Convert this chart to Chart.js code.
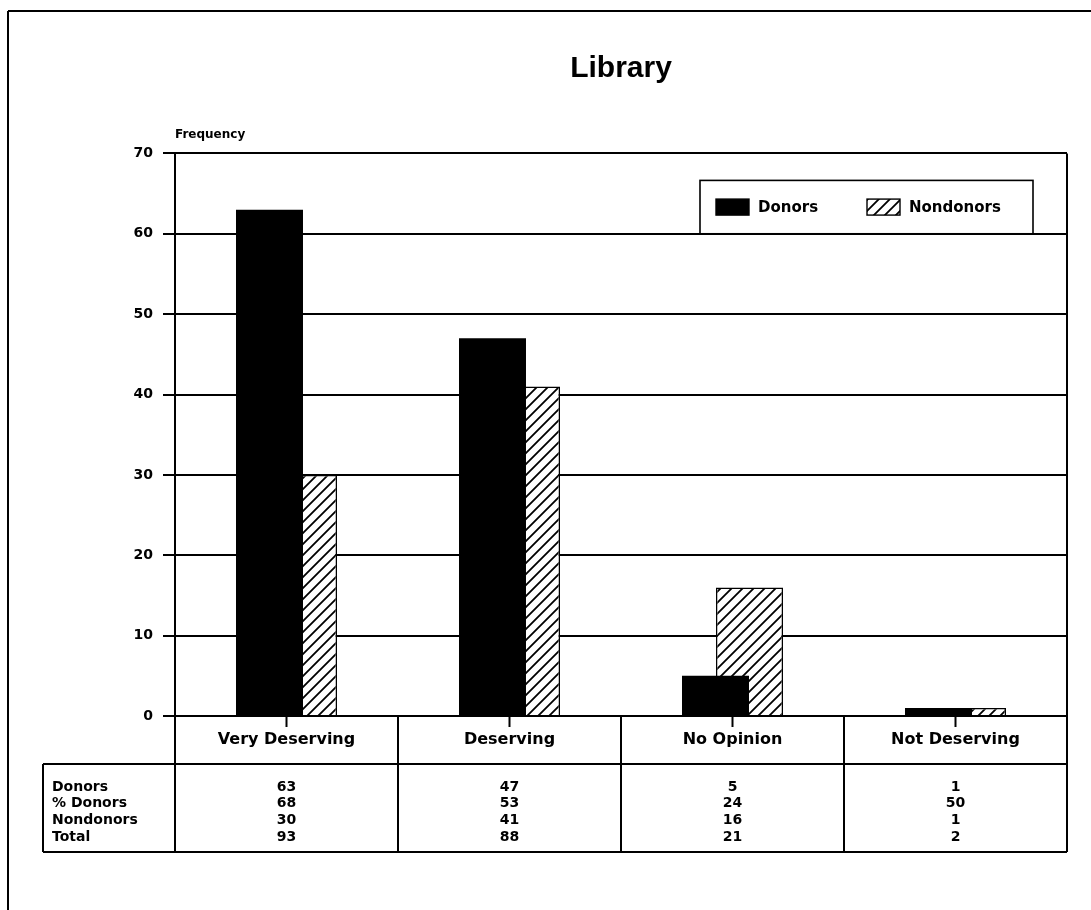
<!DOCTYPE html>
<html>
<head>
<meta charset="utf-8">
<title>Library</title>
<script src="https://cdn.jsdelivr.net/npm/chart.js@4/dist/chart.umd.min.js"></script>
<style>
  html, body { margin: 0; padding: 0; background: #fff; }
  #wrap { width: 1091px; height: 910px; }
</style>
</head>
<body>
<div id="wrap"><canvas id="chart" width="1091" height="910"></canvas></div>
<script>
// Survey responses about the library, split by donor status
const categories = ['Very Deserving', 'Deserving', 'No Opinion', 'Not Deserving'];
const donors = [63, 47, 5, 1];
const pctDonors = [68, 53, 24, 50];
const nondonors = [30, 41, 16, 1];
const totals = [93, 88, 21, 2];
const seriesLabels = ['Donors', 'Nondonors'];
const yMin = 0;
const yMax = 70;
const yStep = 10;

// Rows of the summary table printed under the axis
const tableRows = [
  ['Donors', donors],
  ['% Donors', pctDonors],
  ['Nondonors', nondonors],
  ['Total', totals]
];

const FONT = '"DejaVu Sans", "Liberation Sans", sans-serif';

// Diagonal "/" hatch fill
function makeHatch() {
  const s = 11;
  const c = document.createElement('canvas');
  c.width = s; c.height = s;
  const g = c.getContext('2d');
  g.fillStyle = '#fff';
  g.fillRect(0, 0, s, s);
  g.strokeStyle = '#000';
  g.lineWidth = 1.8;
  g.beginPath();
  g.moveTo(-1, s + 1); g.lineTo(s + 1, -1);
  g.moveTo(-1, 1); g.lineTo(1, -1);
  g.moveTo(s - 1, s + 1); g.lineTo(s + 1, s - 1);
  g.stroke();
  return g.createPattern(c, 'repeat');
}
const hatch = makeHatch();

function seg(ctx, x1, y1, x2, y2) {
  ctx.beginPath();
  ctx.moveTo(x1, y1);
  ctx.lineTo(x2, y2);
  ctx.stroke();
}

// Page frame, plot edge, in-plot legend and the data table
const decorations = {
  id: 'decorations',
  afterDraw(chart) {
    const { ctx, chartArea: a } = chart;
    const x = chart.scales.x;
    const y = chart.scales.y;
    const n = categories.length;
    const centers = categories.map((_, i) => x.getPixelForValue(i));
    const bounds = [a.left];
    for (let i = 0; i < n - 1; i++) bounds.push((centers[i] + centers[i + 1]) / 2);
    bounds.push(a.right);

    ctx.save();
    ctx.strokeStyle = '#000';
    ctx.fillStyle = '#000';

    // page frame
    ctx.lineWidth = 2;
    seg(ctx, 8, 11, chart.width, 11);
    seg(ctx, 8, 11, 8, chart.height);

    // right edge of plot
    seg(ctx, a.right, a.top, a.right, a.bottom);

    // category strip under the axis
    const stripBottom = a.bottom + 48;
    bounds.forEach(bx => seg(ctx, bx, a.bottom, bx, stripBottom));
    centers.forEach(cx => seg(ctx, cx, a.bottom, cx, a.bottom + 11));

    // data table
    const tableLeft = 43;
    const rowH = 16.7;
    const tableBottom = stripBottom + 88;
    seg(ctx, tableLeft, stripBottom, a.right, stripBottom);
    seg(ctx, tableLeft, tableBottom, a.right, tableBottom);
    seg(ctx, tableLeft, stripBottom, tableLeft, tableBottom);
    bounds.forEach(bx => seg(ctx, bx, stripBottom, bx, tableBottom));

    ctx.font = 'bold 14px ' + FONT;
    ctx.textBaseline = 'middle';
    tableRows.forEach(([label, vals], r) => {
      const ty = stripBottom + 23 + r * rowH;
      ctx.textAlign = 'left';
      ctx.fillText(label, 52, ty);
      ctx.textAlign = 'center';
      vals.forEach((v, i) => ctx.fillText(String(v), centers[i], ty));
    });

    // legend box inside the plot
    const lx1 = 700, lx2 = a.right - 34;
    const ly1 = a.top + 27, ly2 = y.getPixelForValue(60);
    ctx.fillStyle = '#fff';
    ctx.fillRect(lx1, ly1, lx2 - lx1, ly2 - ly1);
    ctx.lineWidth = 1.6;
    ctx.strokeRect(lx1, ly1, lx2 - lx1, ly2 - ly1);
    const ly = (ly1 + ly2) / 2;
    const items = [
      { x: 716, label: chart.data.datasets[0].label, fill: chart.data.datasets[0].backgroundColor },
      { x: 867, label: chart.data.datasets[1].label, fill: chart.data.datasets[1].backgroundColor }
    ];
    ctx.font = 'bold 15px ' + FONT;
    ctx.textAlign = 'left';
    items.forEach(it => {
      ctx.fillStyle = it.fill;
      ctx.fillRect(it.x, ly - 8, 33, 16);
      ctx.lineWidth = 1.4;
      ctx.strokeRect(it.x, ly - 8, 33, 16);
      ctx.fillStyle = '#000';
      ctx.fillText(it.label, it.x + 42, ly + 1);
    });
    ctx.restore();
  }
};

new Chart(document.getElementById('chart'), {
  type: 'bar',
  data: {
    labels: categories,
    datasets: [
      {
        label: seriesLabels[0],
        data: donors,
        backgroundColor: '#000',
        borderColor: '#000',
        borderWidth: 0
      },
      {
        label: seriesLabels[1],
        data: nondonors,
        backgroundColor: hatch,
        borderColor: '#000',
        borderWidth: 1.5,
        borderSkipped: 'bottom'
      }
    ]
  },
  options: {
    responsive: false,
    animation: false,
    devicePixelRatio: 1,
    // narrow group slots with wide bars so the pair overlaps, donors in front
    categoryPercentage: 0.305,
    barPercentage: 1.97,
    layout: { padding: { top: 0, right: 24, bottom: 0, left: 0 } },
    plugins: {
      legend: { display: false },
      tooltip: { enabled: false },
      title: {
        display: true,
        text: 'Library',
        fullSize: false,
        color: '#000',
        font: { family: '"Liberation Sans", Arial, sans-serif', size: 30, weight: 'bold' },
        padding: { top: 51, bottom: 41 }
      },
      subtitle: {
        display: true,
        text: 'Frequency',
        fullSize: false,
        align: 'start',
        color: '#000',
        font: { family: FONT, size: 12, weight: 'bold' },
        padding: { top: 0, bottom: 11 }
      }
    },
    scales: {
      x: {
        type: 'category',
        offset: true,
        grid: { display: false, drawTicks: false, tickLength: 0 },
        border: { display: false },
        ticks: {
          color: '#000',
          font: { family: FONT, size: 16, weight: 'bold' },
          padding: 14,
          maxRotation: 0,
          autoSkip: false
        },
        afterFit(scale) { scale.height = 194; }
      },
      y: {
        min: yMin,
        max: yMax,
        grid: { color: '#000', lineWidth: 2, tickLength: 12, drawTicks: true },
        border: { display: true, color: '#000', width: 2 },
        ticks: {
          stepSize: yStep,
          color: '#000',
          font: { family: FONT, size: 14, weight: 'bold' },
          padding: 10
        },
        afterFit(scale) { scale.width = 175; }
      }
    }
  },
  plugins: [decorations]
});
</script>
</body>
</html>
